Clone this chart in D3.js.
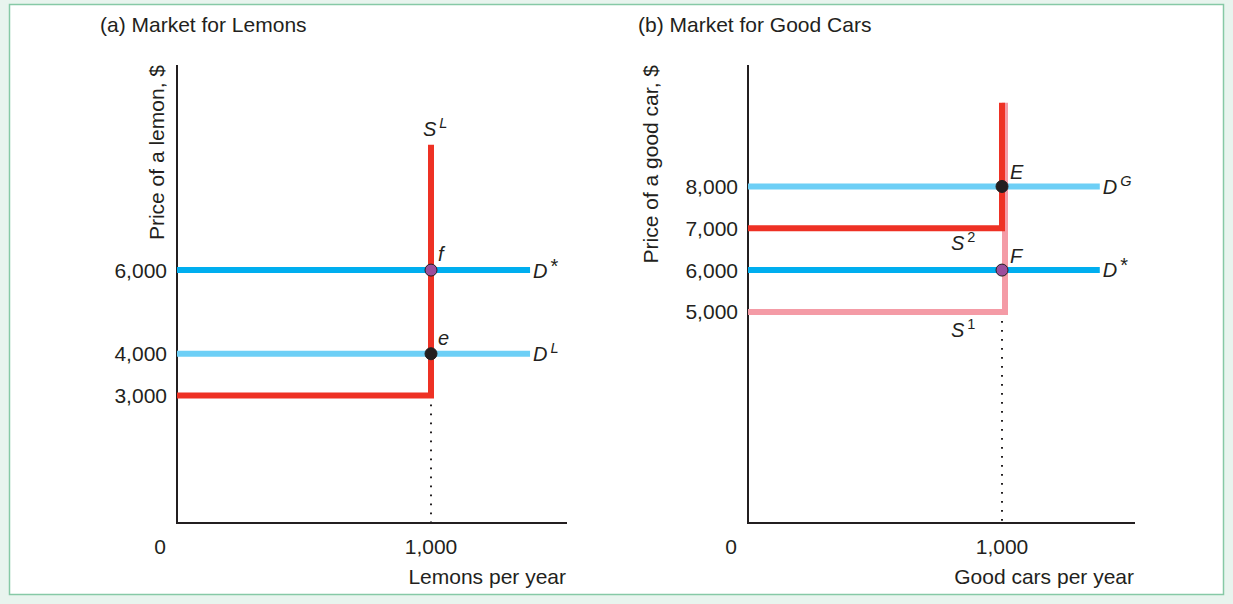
<!DOCTYPE html>
<html><head><meta charset="utf-8">
<script src="https://cdn.jsdelivr.net/npm/d3@7"></script>
<style>
html,body{margin:0;padding:0;background:#e8f4ee;}
svg{display:block;font-family:"Liberation Sans",Arial,Helvetica,sans-serif;}
</style></head>
<body><svg id="c" width="1233" height="604"></svg>
<script>
// ---- data ----
const panelTitles = ["(a) Market for Lemons", "(b) Market for Good Cars"];
const yTitles = ["Price of a lemon, $", "Price of a good car, $"];
const xTitles = ["Lemons per year", "Good cars per year"];
const xTickValues = [1000];
const yTicksA = [6000, 4000, 3000];
const yTicksB = [8000, 7000, 6000, 5000];
// Panel a: supply of lemons (flat at 3000 up to 1000, then vertical to 9000)
const supplyL = [{q:0,p:3000},{q:1000,p:3000},{q:1000,p:9000}];
const demandStarA = [{q:0,p:6000},{q:1390,p:6000}];
const demandL = [{q:0,p:4000},{q:1390,p:4000}];
const pointsA = [{q:1000,p:6000,label:"f",fill:"#9b4f9c"},{q:1000,p:4000,label:"e",fill:"#231f20"}];
// Panel b
const supply1 = [{q:0,p:5000},{q:1000,p:5000},{q:1000,p:10000}];
const supply2 = [{q:0,p:7000},{q:1000,p:7000},{q:1000,p:10000}];
const demandG = [{q:0,p:8000},{q:1385,p:8000}];
const demandStarB = [{q:0,p:6000},{q:1385,p:6000}];
const pointsB = [{q:1000,p:8000,label:"E",fill:"#231f20"},{q:1000,p:6000,label:"F",fill:"#9b4f9c"}];

const svg = d3.select("#c");
svg.append("rect").attr("x",9.5).attr("y",4.5).attr("width",1214).attr("height",590)
  .attr("fill","#fff").attr("stroke","#86c9a6").attr("stroke-width",1.5);

const txt = "#231f20";
const FS = 21;
const y = d3.scaleLinear().domain([0,11000]).range([521,61]);

function axes(ox, xEnd, title, ytitle, xtitle, yticks, tx, yx, ytBase) {
  const x = d3.scaleLinear().domain([0,1000]).range([ox, ox+254]);
  const g = svg.append("g");
  g.append("text").attr("x",tx).attr("y",32).attr("font-size",FS).attr("fill",txt).text(title);
  g.append("line").attr("x1",ox).attr("x2",ox).attr("y1",65).attr("y2",523).attr("stroke",txt).attr("stroke-width",2);
  g.append("line").attr("x1",ox-1).attr("x2",xEnd).attr("y1",523).attr("y2",523).attr("stroke",txt).attr("stroke-width",2);
  g.append("text").attr("transform",`translate(${ytBase},65) rotate(-90)`).attr("text-anchor","end")
    .attr("font-size",FS).attr("fill",txt).text(ytitle);
  g.selectAll(".yt").data(yticks).enter().append("text").attr("x",yx).attr("y",d=>y(d)+7.5)
    .attr("text-anchor","end").attr("font-size",FS).attr("fill",txt).text(d=>d3.format(",")(d));
  g.append("text").attr("x",ox-17).attr("y",553.5).attr("text-anchor","middle").attr("font-size",FS).attr("fill",txt).text("0");
  g.selectAll(".xt").data(xTickValues).enter().append("text").attr("x",d=>x(d)).attr("y",553.5)
    .attr("text-anchor","middle").attr("font-size",FS).attr("fill",txt).text(d=>d3.format(",")(d));
  g.append("text").attr("x",xEnd-1).attr("y",583.5).attr("text-anchor","end").attr("font-size",FS).attr("fill",txt).text(xtitle);
  return x;
}
function path(data, x, color, dx=0) {
  const ln = d3.line().x(d => d.q === 0 ? x(0) : x(d.q) + dx).y(d => y(d.p));
  svg.append("path").attr("d", ln(data))
    .attr("fill","none").attr("stroke",color).attr("stroke-width",6).attr("stroke-linejoin","miter").attr("stroke-linecap","butt");
}
function dotted(x, q, p0) {
  svg.append("line").attr("x1",x(q)).attr("x2",x(q)).attr("y1",y(p0)+9).attr("y2",522)
    .attr("stroke",txt).attr("stroke-width",2).attr("stroke-dasharray","1.8,7.2");
}
function label(xp, yp, main, sup, italicSup=true) {
  const t = svg.append("text").attr("x",xp).attr("y",yp).attr("font-size",20).attr("fill",txt).attr("font-style","italic");
  t.append("tspan").text(main);
  if (sup) {
    const star = sup === "*";
    t.append("tspan").attr("dx",3).attr("dy",star?-5:-8).attr("font-size",star?20:14.5)
      .attr("font-style",italicSup?"italic":"normal").text(sup);
  }
}
function points(x, pts, dx, dy) {
  svg.selectAll(null).data(pts).enter().append("circle").attr("cx",d=>x(d.q)).attr("cy",d=>y(d.p)).attr("r",6)
    .attr("fill",d=>d.fill).attr("stroke",txt).attr("stroke-width",1);
  svg.selectAll(null).data(pts).enter().append("text").attr("x",d=>x(d.q)+dx).attr("y",d=>y(d.p)+dy)
    .attr("font-size",20).attr("font-style","italic").attr("fill",txt).text(d=>d.label);
}

// Panel a
const xa = axes(177, 567, panelTitles[0], yTitles[0], xTitles[0], yTicksA, 100, 167, 164);
dotted(xa, 1000, 3000);
path(demandStarA, xa, "#00aeef");
path(demandL, xa, "#6dcff6");
path(supplyL, xa, "#ee3124");
points(xa, pointsA, 7, -9);
label(xa(1000)-8, 136, "S", "L");
label(xa(1390)+3, y(6000)+8, "D", "*", false);
label(xa(1390)+3, y(4000)+7, "D", "L");

// Panel b
const xb = axes(748, 1135, panelTitles[1], yTitles[1], xTitles[1], yTicksB, 638, 738, 658);
dotted(xb, 1000, 5000);
path(demandG, xb, "#6dcff6");
path(demandStarB, xb, "#00aeef");
path(supply1, xb, "#f49ba6", 3);
path(supply2, xb, "#ee3124");
points(xb, pointsB, 8, -7);
label(xb(1385)+3, y(8000)+8, "D", "G");
label(xb(1385)+3, y(6000)+7, "D", "*", false);
label(951, 250, "S", "2", false);
label(951, 337, "S", "1", false);
</script></body></html>
